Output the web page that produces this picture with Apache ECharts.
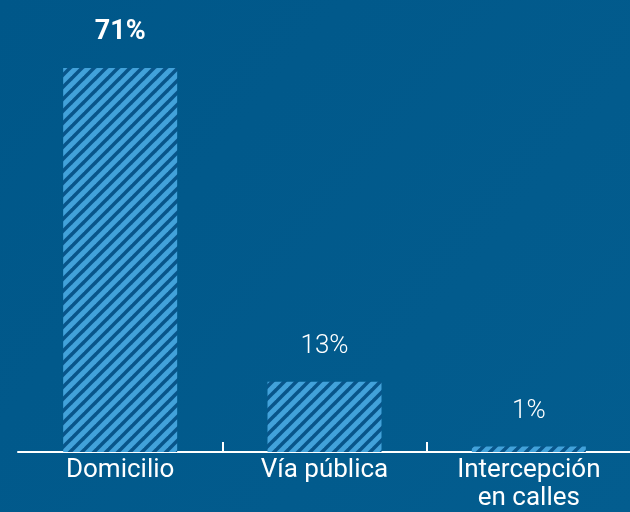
<!DOCTYPE html>
<html>
<head>
<meta charset="utf-8">
<script src="https://cdn.jsdelivr.net/npm/echarts@6/dist/echarts.min.js"></script>
<style>
  html, body { margin: 0; padding: 0; }
  #chartmain { width: 630px; height: 512px; }
</style>
</head>
<body>
<div id="chartmain"></div>
<script>
var categories = ['Domicilio', 'Vía pública', 'Intercepción\nen calles'];
var values = [71, 13, 1];
var labelWeights = ['bold', 300, 300];

// diagonal stripe tile
function stripes() {
    var c = document.createElement('canvas');
    c.width = 12; c.height = 12;
    var ctx = c.getContext('2d');
    ctx.fillStyle = '#08558a';
    ctx.fillRect(0, 0, 12, 12);
    ctx.strokeStyle = '#42a2da';
    ctx.lineWidth = 5;
    for (var x = -12; x <= 12; x += 12) {
        ctx.beginPath();
        ctx.moveTo(x - 2, 14);
        ctx.lineTo(x + 14, -2);
        ctx.stroke();
    }
    return c;
}
var pattern = { image: stripes(), repeat: 'repeat' };

var myChart = echarts.init(document.getElementById('chartmain'));
var data = [];
for (var i = 0; i < values.length; i++) {
    data.push({
        value: values[i],
        label: { fontWeight: labelWeights[i], fontSize: i == 0 ? 27 : 26 }
    });
}
var options = {
    backgroundColor: {
        type: 'linear', x: 0, y: 0, x2: 1, y2: 1,
        colorStops: [{ offset: 0, color: '#005789' }, { offset: 1, color: '#035d8f' }]
    },
    grid: { left: 18, right: -1, top: 68, bottom: 60, outerBoundsMode: 'none', containLabel: false },
    xAxis: {
        type: 'category',
        data: categories,
        axisLine: { show: true, lineStyle: { color: '#ffffff', width: 2 } },
        axisTick: {
            show: true, inside: true, length: 10,
            interval: function(idx) { return idx > 0; },
            lineStyle: { color: '#ffffff', width: 2 }
        },
        axisLabel: {
            color: '#ffffff', fontFamily: 'Roboto', fontSize: 26,
            lineHeight: 28, margin: 4, interval: 0
        }
    },
    yAxis: {
        type: 'value', min: 0, max: 71, show: false,
        splitLine: { show: false }
    },
    series: [{
        type: 'bar',
        data: data,
        barWidth: 114,
        itemStyle: { color: pattern },
        label: {
            show: true, position: 'top', distance: 22,
            color: '#ffffff', fontFamily: 'Roboto',
            formatter: '{c}%'
        }
    }]
};
myChart.setOption(options);
</script>
</body>
</html>
